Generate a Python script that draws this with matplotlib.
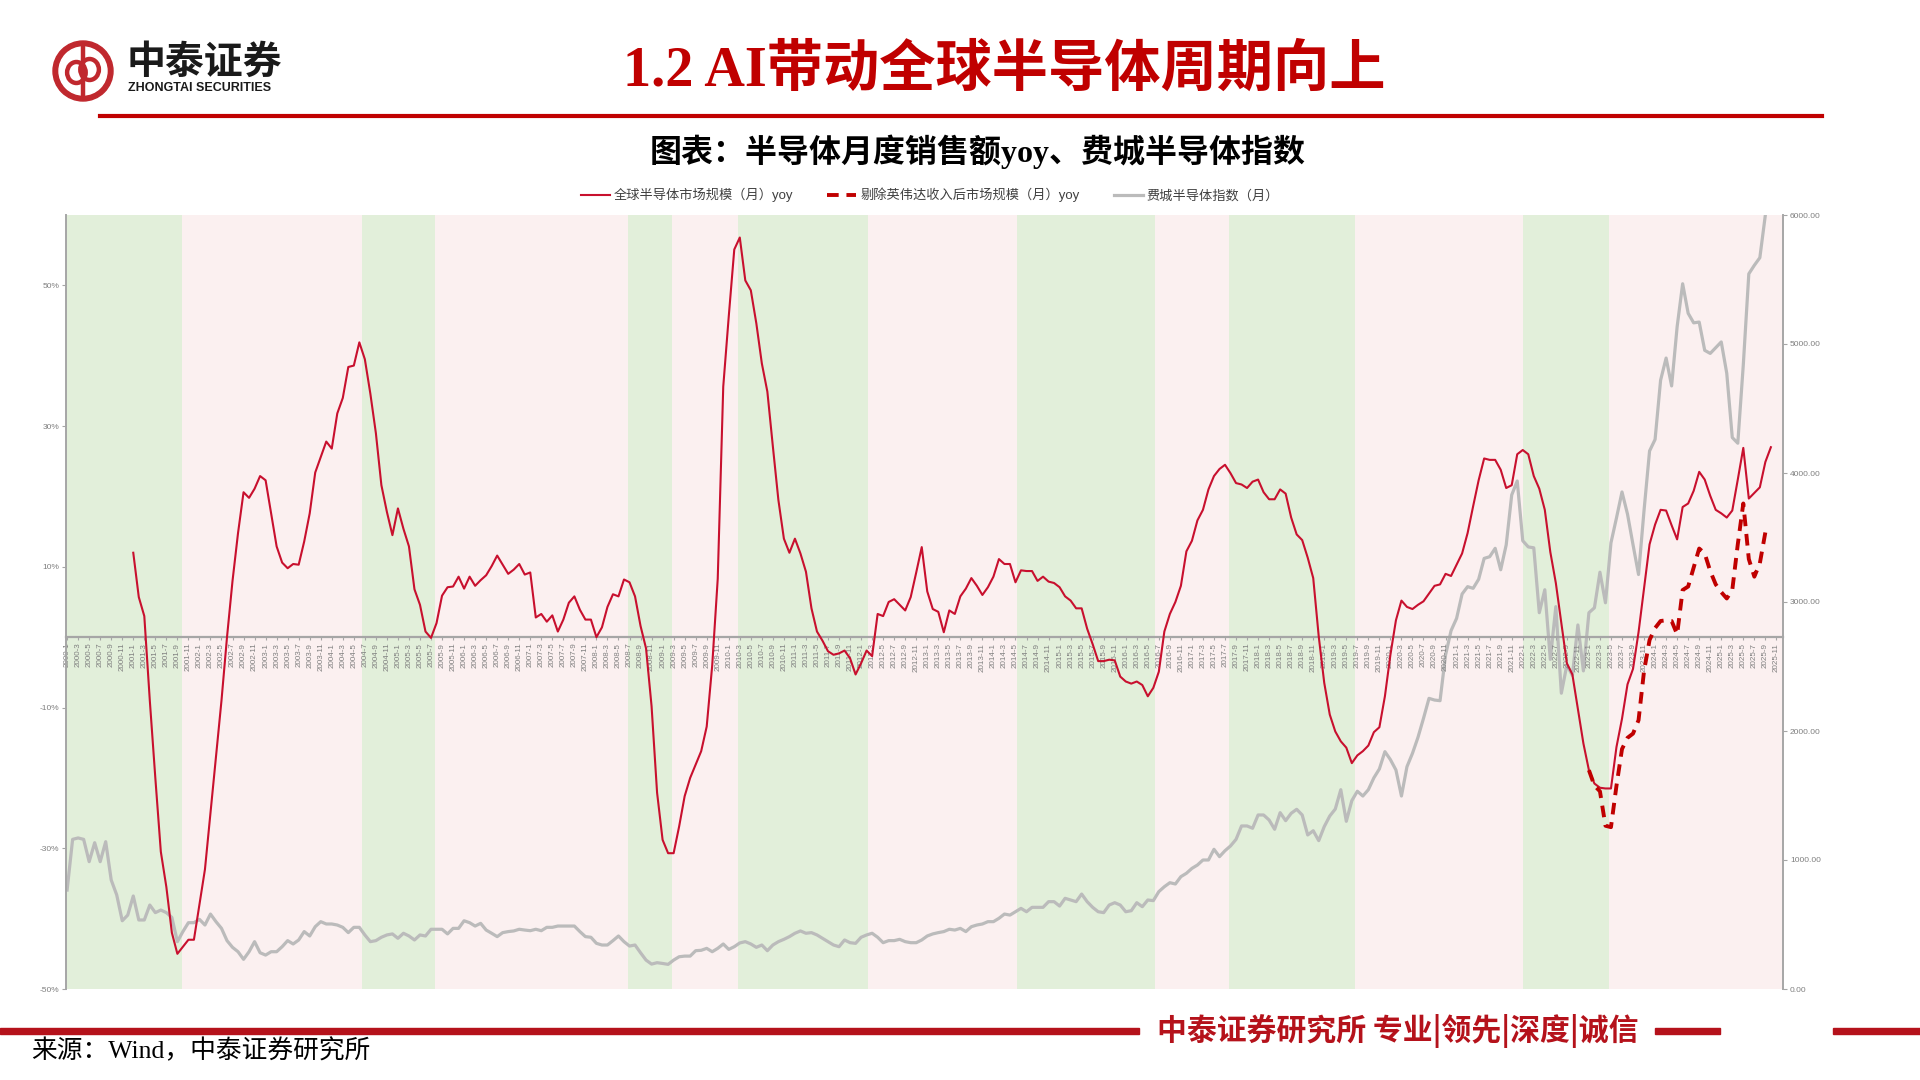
import numpy as np
import matplotlib
matplotlib.use('Agg')
import matplotlib.pyplot as plt
from matplotlib.lines import Line2D
from matplotlib.patches import Circle, Rectangle, Ellipse

plt.rcParams['font.family'] = ['Liberation Sans', 'Noto Sans CJK SC', 'DejaVu Sans']

# ---- data (monthly, 2000-1 .. 2025-11) ----
start_year = 2000

# global semiconductor sales yoy (%), from 2001-1
sales_yoy_start = 12
sales_yoy = [
    12.0, 5.7, 3.0, -9.0, -20.0, -30.5, -35.5, -42.0, -45.0, -44.0, -43.0, -43.0,
    -38.0, -33.0, -25.0, -17.0, -9.0, 0.0, 8.0, 14.8, 20.6, 19.8, 21.1, 22.9,
    22.3, 17.6, 12.9, 10.6, 9.8, 10.4, 10.3, 13.6, 17.6, 23.4, 25.6, 27.8,
    26.8, 31.8, 34.0, 38.4, 38.6, 41.9, 39.5, 34.6, 29.0, 21.6, 17.8, 14.5,
    18.3, 15.4, 12.9, 6.8, 4.6, 0.8, -0.1, 2.0, 5.9, 7.1, 7.2, 8.6,
    6.9, 8.6, 7.3, 8.1, 8.8, 10.1, 11.6, 10.3, 9.0, 9.6, 10.4, 8.9,
    9.2, 2.8, 3.3, 2.2, 3.1, 0.8, 2.5, 4.9, 5.8, 3.9, 2.5, 2.5,
    0.0, 1.4, 4.3, 6.1, 5.8, 8.2, 7.8, 5.8, 1.6, -1.6, -9.8, -22.1,
    -28.8, -30.7, -30.7, -26.9, -22.6, -20.0, -18.1, -16.2, -12.7, -4.0, 8.3, 35.6,
    45.6, 55.1, 56.8, 50.7, 49.3, 44.6, 38.9, 34.9, 27.1, 19.5, 14.0, 12.0,
    14.0, 11.9, 9.3, 4.1, 0.8, -0.5, -2.0, -2.5, -2.3, -1.9, -3.0, -5.3,
    -3.7, -1.9, -2.7, 3.3, 3.0, 5.0, 5.4, 4.6, 3.8, 5.7, 9.2, 12.8,
    6.5, 4.0, 3.6, 0.7, 3.8, 3.3, 5.8, 6.9, 8.4, 7.3, 6.0, 7.1,
    8.6, 11.1, 10.4, 10.4, 7.8, 9.5, 9.4, 9.4, 8.0, 8.6, 7.9, 7.7,
    7.1, 5.8, 5.2, 4.1, 4.1, 1.2, -1.0, -3.4, -3.4, -3.2, -3.3, -5.6,
    -6.3, -6.6, -6.3, -6.8, -8.4, -7.2, -4.9, 0.8, 3.3, 5.0, 7.3, 12.2,
    13.7, 16.6, 18.1, 21.0, 22.9, 23.9, 24.5, 23.3, 21.9, 21.7, 21.2, 22.1,
    22.4, 20.6, 19.6, 19.6, 21.0, 20.4, 17.0, 14.6, 13.8, 11.3, 8.4, 0.1,
    -6.5, -11.0, -13.4, -14.8, -15.7, -17.9, -16.8, -16.2, -15.4, -13.5, -12.8, -8.4,
    -2.5, 2.4, 5.2, 4.3, 4.0, 4.6, 5.1, 6.2, 7.3, 7.5, 9.0, 8.7,
    10.3, 11.9, 14.8, 18.6, 22.3, 25.4, 25.2, 25.2, 23.8, 21.2, 21.6, 26.0,
    26.6, 26.0, 22.9, 21.1, 18.1, 12.1, 7.7, 2.0, -3.7, -5.3, -10.2, -15.1,
    -18.9, -20.8, -21.4, -21.5, -21.5, -15.6, -11.6, -6.7, -4.5, 0.7, 7.0, 13.2,
    16.0, 18.1, 18.0, 15.9, 13.9, 18.5, 19.0, 20.8, 23.5, 22.4, 20.1, 18.1,
    17.6, 17.0, 18.0, 22.4, 26.9, 19.7, 20.5, 21.3, 24.9, 27.0,
]

# market size ex-Nvidia yoy (%), from 2023-1
ex_nvda_start = 276
ex_nvda_yoy = [
    -18.9, -21.1, -21.9, -26.8, -27.0, -21.1, -15.9, -14.3, -13.7, -11.8, -4.8, -0.4,
    1.3, 2.3, 2.4, 2.3, 0.4, 6.7, 7.2, 9.9, 12.6, 11.9, 9.4, 7.5,
    6.4, 5.5, 6.7, 13.2, 19.0, 11.1, 8.6, 10.5, 14.9,
]

# Philadelphia semiconductor index, from 2000-1
sox_start = 0
sox = [
    767, 1160, 1171, 1160, 987, 1134, 987, 1142, 845, 729, 529, 573,
    721, 535, 535, 651, 592, 612, 592, 555, 367, 445, 514, 514,
    540, 496, 581, 522, 470, 375, 323, 289, 230, 289, 367, 281,
    263, 289, 289, 328, 375, 349, 380, 445, 411, 483, 522, 504,
    504, 496, 478, 437, 478, 478, 419, 367, 375, 401, 419, 427,
    393, 432, 411, 380, 419, 411, 463, 463, 463, 427, 470, 470,
    529, 514, 488, 509, 457, 432, 406, 437, 445, 450, 463, 457,
    452, 463, 452, 478, 478, 488, 488, 488, 488, 445, 406, 401,
    354, 341, 341, 375, 411, 367, 333, 341, 281, 224, 193, 204,
    198, 191, 224, 250, 255, 255, 297, 300, 315, 289, 315, 349,
    307, 328, 357, 367, 349, 323, 341, 297, 341, 367, 385, 406,
    432, 450, 432, 437, 419, 393, 367, 341, 328, 380, 359, 354,
    401, 419, 432, 401, 359, 375, 375, 385, 367, 359, 359, 380,
    411, 427, 437, 445, 463, 457, 470, 445, 483, 496, 504, 522,
    522, 548, 581, 573, 599, 625, 599, 633, 633, 633, 677, 677,
    643, 703, 690, 677, 736, 677, 633, 599, 592, 651, 669, 651,
    599, 607, 669, 638, 690, 685, 755, 793, 824, 814, 871, 897,
    935, 961, 1000, 1000, 1083, 1026, 1072, 1109, 1160, 1264, 1264, 1246,
    1349, 1349, 1310, 1238, 1367, 1305, 1362, 1393, 1349, 1194, 1227, 1150,
    1259, 1341, 1395, 1545, 1300, 1460, 1533, 1496, 1545, 1637, 1706, 1840,
    1778, 1698, 1496, 1723, 1827, 1951, 2098, 2253, 2240, 2235, 2589, 2778,
    2873, 3062, 3119, 3106, 3176, 3338, 3351, 3416, 3250, 3443, 3830, 3938,
    3475, 3427, 3420, 2917, 3095, 2555, 2964, 2293, 2511, 2431, 2822, 2466,
    2917, 2955, 3231, 2994, 3459, 3652, 3853, 3681, 3444, 3213, 3711, 4171,
    4260, 4719, 4891, 4675, 5134, 5467, 5238, 5164, 5170, 4951, 4927, 4972,
    5016, 4773, 4275, 4231, 4839, 5544, 5610, 5669, 6000,
]

# cycle phases (month index boundaries), alternating down (green) / up (pink)
cycle_edges = [-0.2, 20.8, 53.5, 66.8, 101.8, 109.7, 121.7, 145.3, 172.3,
               197.3, 210.8, 233.5, 264.0, 279.7, 311.2]

labels_legend = ['全球半导体市场规模（月）yoy', '剔除英伟达收入后市场规模（月）yoy', '费城半导体指数（月）']

# ---- colours ----
RED = '#C8102E'
DARK_RED = '#C00000'
GRAY = '#BBBBBB'
GREEN_BG = '#E2EFDA'
PINK_BG = '#FBF0F0'
AXIS_GRAY = '#A6A6A6'
TICK_GRAY = '#7F7F7F'

fig = plt.figure(figsize=(19.2, 10.8), dpi=100)

# ---- chart ----
left, right = 66 / 1920, 1783 / 1920
bottom, top = 1 - 989 / 1080, 1 - 215 / 1080
ax = fig.add_axes([left, bottom, right - left, top - bottom])
axr = ax.twinx()
ax.set_zorder(axr.get_zorder() + 1)
ax.patch.set_visible(False)

for i in range(len(cycle_edges) - 1):
    axr.axvspan(cycle_edges[i], cycle_edges[i + 1], color=GREEN_BG if i % 2 == 0 else PINK_BG,
                lw=0, zorder=0)

x_sox = np.arange(sox_start, sox_start + len(sox))
axr.plot(x_sox, sox, color=GRAY, lw=2.3, zorder=2, solid_joinstyle='round')

x_yoy = np.arange(sales_yoy_start, sales_yoy_start + len(sales_yoy))
ax.plot(x_yoy, np.array(sales_yoy) / 100, color=RED, lw=1.5, zorder=3)
x_nv = np.arange(ex_nvda_start, ex_nvda_start + len(ex_nvda_yoy))
ax.plot(x_nv, np.array(ex_nvda_yoy) / 100, color=DARK_RED, lw=2.8, ls=(0, (3, 2)), zorder=4)

ax.set_xlim(cycle_edges[0], cycle_edges[-1])
axr.set_xlim(cycle_edges[0], cycle_edges[-1])
ax.set_ylim(-0.5, 0.6)
axr.set_ylim(0, 6000)

# x axis along zero line
ax.spines['bottom'].set_position(('data', 0))
ax.spines['bottom'].set_color(AXIS_GRAY)
ax.spines['bottom'].set_linewidth(1.6)
ax.spines['top'].set_visible(False)
ax.spines['right'].set_visible(False)
ax.spines['left'].set_color(AXIS_GRAY)
ax.spines['left'].set_linewidth(1.4)
for s in ['top', 'left', 'bottom']:
    axr.spines[s].set_visible(False)
axr.spines['right'].set_color(AXIS_GRAY)
axr.spines['right'].set_linewidth(1.4)

tick_pos = list(range(0, 311, 2))
tick_lab = [f'{start_year + m // 12}-{m % 12 + 1}' for m in tick_pos]
ax.set_xticks(tick_pos)
ax.set_xticklabels(tick_lab, rotation=90, fontsize=5.8, color=TICK_GRAY)
ax.tick_params(axis='x', length=2.5, color=AXIS_GRAY, pad=1.5)

yt = [-0.5, -0.3, -0.1, 0.1, 0.3, 0.5]
ax.set_yticks(yt)
ax.set_yticklabels([f'{int(round(v * 100))}%' for v in yt], fontsize=6, color=TICK_GRAY)
ax.tick_params(axis='y', length=3, color=AXIS_GRAY, pad=2)

rt = list(range(0, 7000, 1000))
axr.set_yticks(rt)
axr.set_yticklabels([f'{v:.2f}' for v in rt], fontsize=6, color=TICK_GRAY)
axr.tick_params(axis='y', length=3, color=AXIS_GRAY, pad=2)

handles = [Line2D([], [], color=RED, lw=1.5),
           Line2D([], [], color=DARK_RED, lw=2.8, ls=(0, (3, 2))),
           Line2D([], [], color=GRAY, lw=2.3)]
fig.legend(handles, labels_legend, loc='center', bbox_to_anchor=(930 / 1920, 1 - 195 / 1080),
           ncol=3, frameon=False, fontsize=9.5, handlelength=2.2, handletextpad=0.3,
           columnspacing=2.6, labelcolor='#404040')

# ---- header ----
lax = fig.add_axes([50 / 1920, 1 - 104 / 1080, 66 / 1920, 66 / 1080])
lax.set_xlim(-1.1, 1.1)
lax.set_ylim(-1.1, 1.1)
lax.set_aspect('equal')
lax.axis('off')
lax.add_patch(Circle((0, 0), 1.0, color='#C0282E'))
lax.add_patch(Circle((0, 0), 0.8, color='white'))
lax.add_patch(Ellipse((-0.22, -0.05), 0.62, 0.7, fill=False, ec='#C0282E', lw=3.2))
lax.add_patch(Ellipse((0.22, 0.05), 0.62, 0.7, fill=False, ec='#C0282E', lw=3.2))
lax.plot([0, 0], [-0.8, 0.8], color='#C0282E', lw=3.2)

fig.text(127 / 1920, 1 - 62 / 1080, '中泰证券', fontsize=28, weight='bold', color='#1A1A1A',
         va='center', ha='left', family=['Noto Sans CJK SC'])
fig.text(128 / 1920, 1 - 88 / 1080, 'ZHONGTAI SECURITIES', fontsize=9, weight='bold',
         color='#1A1A1A', va='center', ha='left')

fig.text(1004 / 1920, 1 - 71 / 1080, '1.2 AI带动全球半导体周期向上', ha='center', va='center',
         fontsize=40.5, weight='bold', color=DARK_RED, family=['Liberation Serif', 'Noto Sans CJK SC'])
fig.add_artist(Line2D([100 / 1920, 1822 / 1920], [1 - 116 / 1080] * 2, color=DARK_RED, lw=3,
                      transform=fig.transFigure))

fig.text(978 / 1920, 1 - 152 / 1080, '图表：半导体月度销售额yoy、费城半导体指数', ha='center',
         va='center', fontsize=23, weight='bold', color='black',
         family=['Liberation Serif', 'Noto Sans CJK SC'])

# ---- footer ----
FOOT_RED = '#B5121B'
fig.add_artist(Rectangle((0, 1 - 1034 / 1080), 1139 / 1920, 6 / 1080, color=FOOT_RED,
                         transform=fig.transFigure))
fig.text(1157 / 1920, 1 - 1031 / 1080, '中泰证券研究所 专业|领先|深度|诚信', ha='left', va='center',
         fontsize=21.5, weight='bold', color=FOOT_RED, family=['Noto Sans CJK SC'])
fig.add_artist(Rectangle((1655 / 1920, 1 - 1034 / 1080), 65 / 1920, 6 / 1080, color=FOOT_RED,
                         transform=fig.transFigure))
fig.add_artist(Rectangle((1833 / 1920, 1 - 1034 / 1080), 87 / 1920, 6 / 1080, color=FOOT_RED,
                         transform=fig.transFigure))
fig.text(31 / 1920, 1 - 1051 / 1080, '来源：Wind，中泰证券研究所', ha='left', va='center',
         fontsize=18.5, color='black', family=['Liberation Serif', 'Noto Sans CJK SC'])

fig.savefig('out.png', dpi=100)
